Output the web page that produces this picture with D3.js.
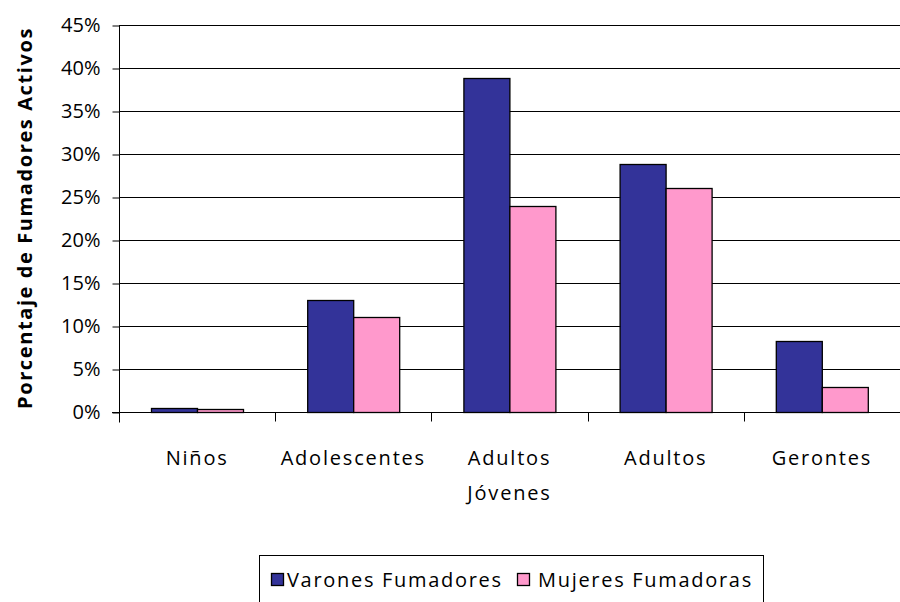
<!DOCTYPE html>
<html>
<head>
<meta charset="utf-8">
<script src="https://cdn.jsdelivr.net/npm/d3@7"></script>
<style>
  body { margin: 0; background: #fff; }
  text { font-family: "Open Sans", sans-serif; fill: #000; }
</style>
</head>
<body>
<script>
// chart data
var categories = ["Niños", "Adolescentes", "Adultos\nJóvenes", "Adultos", "Gerontes"];
var seriesNames = ["Varones Fumadores", "Mujeres Fumadoras"];
var varones = [0.5, 13, 38.8, 28.8, 8.3];
var mujeres = [0.3, 11, 23.9, 26.0, 2.9];
var yTicks = [0, 5, 10, 15, 20, 25, 30, 35, 40, 45];
var colors = ["#333399", "#ff99cc"];

var width = 900, height = 602;
var margin = {left: 119, top: 25, right: 0, bottom: 190};

var svg = d3.select("body").append("svg")
    .attr("width", width)
    .attr("height", height);

var x = d3.scaleBand()
    .domain(categories)
    .range([margin.left, width - margin.right]);

var x1 = d3.scaleBand()
    .domain(seriesNames)
    .range([0, x.bandwidth()])
    .paddingOuter(0.7)
    .paddingInner(0);

var y = d3.scaleLinear()
    .domain([0, 45])
    .range([height - margin.bottom, margin.top]);

// gridlines
svg.append("g")
    .selectAll("line")
    .data(yTicks.slice(1))
    .enter().append("line")
    .attr("x1", margin.left)
    .attr("x2", width)
    .attr("y1", function(d) { return Math.round(y(d)) + 0.5; })
    .attr("y2", function(d) { return Math.round(y(d)) + 0.5; })
    .style("stroke", "#000")
    .style("stroke-width", 1);

// bars
var rows = categories.map(function(c, i) {
    return {cat: c, vals: [varones[i], mujeres[i]]};
});

var groups = svg.append("g").selectAll("g")
    .data(rows)
    .enter().append("g")
    .attr("transform", function(d) { return "translate(" + x(d.cat) + ",0)"; });

groups.selectAll("rect")
    .data(function(d) { return d.vals.map(function(v, j) { return {v: v, s: seriesNames[j], j: j}; }); })
    .enter().append("rect")
    .attr("x", function(d) { return Math.round(x1(d.s)) + 0.5; })
    .attr("y", function(d) { return Math.round(y(d.v)) + 0.5; })
    .attr("width", Math.round(x1.bandwidth()))
    .attr("height", function(d) { return Math.max(0, Math.round(y(0)) - Math.round(y(d.v))); })
    .style("fill", function(d) { return colors[d.j]; })
    .style("stroke", "#000")
    .style("stroke-width", 1.3);

// y axis
var yAxis = d3.axisLeft(y)
    .tickValues(yTicks)
    .tickSize(7)
    .tickPadding(12)
    .tickFormat(function(d) { return d + "%"; });

var gy = svg.append("g")
    .attr("transform", "translate(" + (margin.left + 0.5) + ",0.5)")
    .call(yAxis);
gy.select(".domain").attr("d", "M-0," + (y(45)) + "V" + (y(0) + 10));
gy.selectAll("text")
    .style("font-size", "20px")
    .style("font-family", "Open Sans")
    .attr("dy", "0.3em");
gy.selectAll("line, path").style("stroke", "#000");

// x axis
var bottomY = Math.round(y(0)) + 0.5;
svg.append("line")
    .attr("x1", margin.left - 7).attr("x2", width)
    .attr("y1", bottomY).attr("y2", bottomY)
    .style("stroke", "#000");

svg.append("g").selectAll("line")
    .data(categories.slice(1))
    .enter().append("line")
    .attr("x1", function(d) { return Math.round(x(d)) + 0.5; })
    .attr("x2", function(d) { return Math.round(x(d)) + 0.5; })
    .attr("y1", bottomY).attr("y2", bottomY + 9)
    .style("stroke", "#000");

var labels = svg.append("g").selectAll("text")
    .data(categories)
    .enter().append("text")
    .attr("text-anchor", "middle")
    .attr("x", function(d) { return x(d) + x.bandwidth() / 2; })
    .attr("y", 465)
    .style("font-size", "20px")
    .style("letter-spacing", "1.8px");

labels.selectAll("tspan")
    .data(function(d) { return d.split("\n"); })
    .enter().append("tspan")
    .attr("x", function() { return d3.select(this.parentNode).attr("x"); })
    .attr("dy", function(d, i) { return i ? 35 : 0; })
    .text(function(d) { return d; });

// y title
svg.append("text")
    .attr("transform", "translate(32,218) rotate(-90)")
    .attr("text-anchor", "middle")
    .style("font-size", "20px")
    .style("font-weight", "bold")
    .style("letter-spacing", "1.6px")
    .text("Porcentaje de Fumadores Activos");

// legend
var legend = svg.append("g");
legend.append("rect")
    .attr("x", 259.5).attr("y", 555.5)
    .attr("width", 504).attr("height", 60)
    .style("fill", "#fff")
    .style("stroke", "#000");

var legendItems = [{name: seriesNames[0], x: 271, tx: 287}, {name: seriesNames[1], x: 517, tx: 538}];
legendItems.forEach(function(it, i) {
    legend.append("rect")
        .attr("x", it.x + 0.5).attr("y", 573.5)
        .attr("width", 12).attr("height", 12)
        .style("fill", colors[i])
        .style("stroke", "#000")
        .style("stroke-width", 1.3);
    legend.append("text")
        .attr("x", it.tx).attr("y", 587)
        .style("font-size", "20px")
        .style("letter-spacing", "1.7px")
        .text(it.name);
});
</script>
</body>
</html>
